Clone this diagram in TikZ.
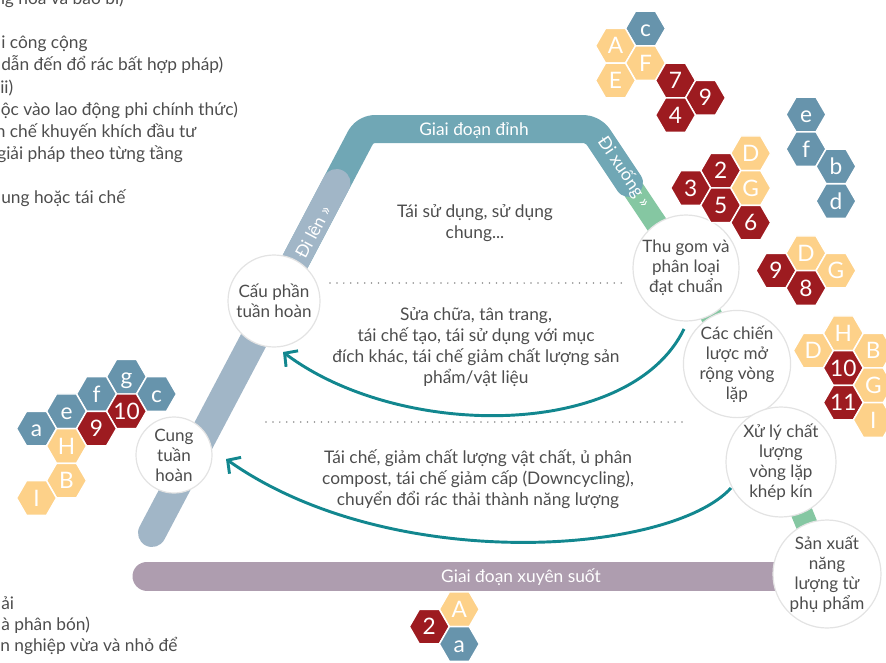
\documentclass[tikz,border=0pt]{standalone}
\usepackage{fontspec}
\setmainfont{Lato}
\usetikzlibrary{arrows.meta}

\definecolor{inkgray}{HTML}{4D4D4D}
\definecolor{bandteal}{HTML}{70A7B5}
\definecolor{bandgray}{HTML}{A1B6C7}
\definecolor{bandgreen}{HTML}{85C7A2}
\definecolor{bandmauve}{HTML}{AE9DAF}
\definecolor{flowteal}{HTML}{12878F}
\definecolor{ringgray}{HTML}{E3E3E3}
\definecolor{dotgray}{HTML}{8C8C8C}
\definecolor{hexsand}{HTML}{FDD189}
\definecolor{hexwine}{HTML}{9D1B20}
\definecolor{hexslate}{HTML}{6794AC}

\tikzset{
  band/.style={line width=21pt, line cap=round, line join=round},
  stage/.style={circle, draw=ringgray, line width=0.9pt, fill=white, text=inkgray,
    align=center, inner sep=0pt, minimum size=#1, font=\fontsize{12.8}{15}\selectfont},
  hexface/.style={fill=#1, draw=white, line width=1.1pt, line join=miter},
  hexlabel/.style={text=white, inner sep=0pt,
    font=\fontsize{17}{17}\selectfont, text height=12pt, text depth=0pt},
  bandlabel/.style={text=white, inner sep=0pt, font=\fontsize{13}{15}\selectfont},
  note/.style={text=inkgray, align=center, inner sep=0pt, font=\fontsize{13}{15.75}\selectfont},
  sidenote/.style={text=inkgray, anchor=base west, inner sep=0pt, font=\fontsize{13}{15}\selectfont},
  divider/.style={draw=dotgray, line width=1.3pt, line cap=round, dash pattern=on 0pt off 5.2pt},
  flow/.style={draw=flowteal, line width=2.2pt, -{Straight Barb[length=7pt, width=15pt]}},
}

% flat-topped honeycomb cell (circumradius 20 units): name, centre, colour, label
\newcommand\honeycell[4]{%
  \draw[hexface=#3] (#2) ++(20,0) -- ++(-10,17.32) -- ++(-20,0) -- ++(-10,-17.32)
    -- ++(10,-17.32) -- ++(20,0) -- cycle;
  \node[hexlabel] (#1) at (#2) {#4};}

\begin{document}
\begin{tikzpicture}[x=0.75pt, y=-0.75pt]
\useasboundingbox (0,0) rectangle (886,662);
\clip (0,0) rectangle (886,662);

% stations along the loop
\coordinate (pCau) at (274,301);
\coordinate (pCung) at (174,455);
\coordinate (pThu) at (686,268);
\coordinate (pChien) at (737,364);
\coordinate (pXuly) at (781,462);
\coordinate (pSan) at (827,574);

% coloured bands
\draw[band, bandgreen, line width=16.5pt] (607,150) -- (pThu) -- (pChien) -- (pXuly) -- (pSan);
\draw[band, bandteal, rounded corners=7pt] (296,260) -- (365,129) -- (593,129) -- (629,183);
\draw[band, bandgray] (152,533) -- (336.5,183);
\draw[band, bandmauve, line width=21.75pt] (147,576) -- (800,576);

% band labels
\node[bandlabel] (peak) at (474,131) {Giai đoạn đỉnh};
\node[bandlabel, rotate=62.2] (up) at (313,232) {Đi lên »};
\node[bandlabel, rotate=-56.2] (down) at (624,172) {Đi xuống »};
\node[bandlabel] (cross) at (521,577) {Giai đoạn xuyên suốt};

% separators
\draw[divider] (330,283) -- (622,283);
\draw[divider] (266,422) -- (686,422);

% loop descriptions
\node[note] (reuse) at (475,223) {Tái sử dụng, sử dụng\\chung...};
\node[note] (repair) at (476,347) {Sửa chữa, tân trang,\\tái chế tạo, tái sử dụng với mục\\đích khác, tái chế giảm chất lượng sản\\phẩm/vật liệu};
\node[note] (recycle) at (478,479) {Tái chế, giảm chất lượng vật chất, ủ phân\\compost, tái chế giảm cấp (Downcycling),\\chuyển đổi rác thải thành năng lượng};

% stations
\node[stage=69pt] (cau) at (pCau) {Cấu phần\\tuần hoàn};
\node[stage=57pt] (cung) at (pCung) {Cung\\tuần\\hoàn};
\node[stage=79.5pt] (thu) at (pThu) {Thu gom và\\phân loại\\đạt chuẩn};
\node[stage=75pt] (chien) at (pChien) {Các chiến\\lược mở\\rộng vòng\\lặp};
\node[stage=82.5pt] (xuly) at (pXuly) {Xử lý chất\\lượng\\vòng lặp\\khép kín};
\node[stage=81pt] (san) at (pSan) {Sản xuất\\năng\\lượng từ\\phụ phẩm};

% return flows
\coordinate (r1from) at (684,329);
\coordinate (r1to) at (283,352);
\draw[flow] (r1from) .. controls (630,440) and (400,440) .. (r1to);
\coordinate (r2from) at (731,488);
\coordinate (r2to) at (226,459);
\draw[flow] (r2from) .. controls (670,555) and (390,575) .. (r2to);

% honeycomb: top cluster
\honeycell{t1c}{645.5,28.5}{hexslate}{c}
\honeycell{t1A}{615.5,45.8}{hexsand}{A}
\honeycell{t1F}{645.5,63.1}{hexsand}{F}
\honeycell{t1E}{615.5,80.5}{hexsand}{E}
\honeycell{t17}{675.5,80.5}{hexwine}{7}
\honeycell{t19}{705.5,97.8}{hexwine}{9}
\honeycell{t14}{675.5,115.1}{hexwine}{4}

% honeycomb: digits beside the descent
\honeycell{t2D}{750.7,153.3}{hexsand}{D}
\honeycell{t22}{720.7,170.6}{hexwine}{2}
\honeycell{t23}{690.7,188}{hexwine}{3}
\honeycell{t2G}{750.7,188}{hexsand}{G}
\honeycell{t25}{720.7,205.3}{hexwine}{5}
\honeycell{t26}{750.7,222.6}{hexwine}{6}

% honeycomb: letters at the right
\honeycell{t3e}{806,114.5}{hexslate}{e}
\honeycell{t3f}{806,149.1}{hexslate}{f}
\honeycell{t3b}{836,166.4}{hexslate}{b}
\honeycell{t3d}{836,201.1}{hexslate}{d}

% honeycomb: beside collection
\honeycell{t4D}{806,253.3}{hexsand}{D}
\honeycell{t49}{776,270.6}{hexwine}{9}
\honeycell{t4G}{836,270.6}{hexsand}{G}
\honeycell{t48}{806,288}{hexwine}{8}

% honeycomb: beside loop extension
\honeycell{t5H}{843.3,333.3}{hexsand}{H}
\honeycell{t5D}{813.3,350.6}{hexsand}{D}
\honeycell{t5B}{873.3,350.6}{hexsand}{B}
\honeycell{t510}{843.3,368}{hexwine}{10}
\honeycell{t5G}{873.3,385.3}{hexsand}{G}
\honeycell{t511}{843.3,402.6}{hexwine}{11}
\honeycell{t5I}{873.3,420}{hexsand}{I}

% honeycomb: left of supply
\honeycell{t6g}{126.5,376.7}{hexslate}{g}
\honeycell{t6f}{96.5,394}{hexslate}{f}
\honeycell{t6c}{156.5,394}{hexslate}{c}
\honeycell{t610}{126.5,411.3}{hexwine}{10}
\honeycell{t6e}{66.5,411.3}{hexslate}{e}
\honeycell{t69}{96.5,428.6}{hexwine}{9}
\honeycell{t6a}{36.5,428.6}{hexslate}{a}
\honeycell{t6H}{66.5,446}{hexsand}{H}
\honeycell{t6B}{66.5,480.6}{hexsand}{B}
\honeycell{t6I}{36.5,498}{hexsand}{I}

% honeycomb: under the cross-cutting band
\honeycell{t7A}{459.3,609.3}{hexsand}{A}
\honeycell{t72}{429.3,626.6}{hexwine}{2}
\honeycell{t7a}{459.3,644}{hexslate}{a}

% side list, upper
\node[sidenote] (s1) at (-5,4) {ng hóa và bao bì)};
\node[sidenote] (s2) at (1,48) {i công cộng};
\node[sidenote] (s3) at (1,70.5) {dẫn đến đổ rác bất hợp pháp)};
\node[sidenote] (s4) at (0,93) {ii)};
\node[sidenote] (s5) at (0.5,115) {ộc vào lao động phi chính thức)};
\node[sidenote] (s6) at (-4.5,137) {n chế khuyến khích đầu tư};
\node[sidenote] (s7) at (-3,159) {giải pháp theo từng tầng};
\node[sidenote] (s8) at (1,203) {ung hoặc tái chế};

% side list, lower
\node[sidenote] (s9) at (1,609) {ải};
\node[sidenote] (s10) at (1,630) {à phân bón)};
\node[sidenote] (s11) at (0,651) {n nghiệp vừa và nhỏ để};
\end{tikzpicture}
\end{document}
